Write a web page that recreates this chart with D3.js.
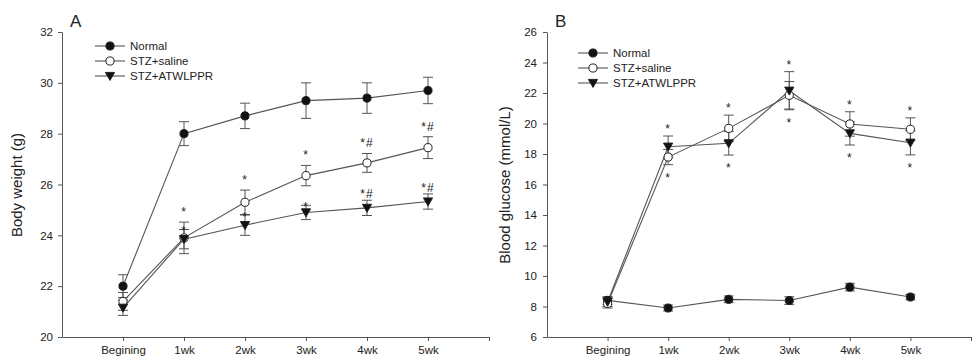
<!DOCTYPE html>
<html>
  <head>
    <title>Body weight and blood glucose</title>
    <style>
      body { margin: 0; background: #fff; }
      text { font-family: "Liberation Sans", Arial, sans-serif; fill: #222; }
      .axis path, .axis line { stroke: #555; }
    </style>
  </head>
  <body>
    <div id="chart"></div>
    <script src="https://d3js.org/d3.v7.min.js"></script>
<script>

  var categories = ["Begining", "1wk", "2wk", "3wk", "4wk", "5wk"];
  var seriesNames = ["Normal", "STZ+saline", "STZ+ATWLPPR"];

  // panel A - body weight (g)
  var weightTicks = [20, 22, 24, 26, 28, 30, 32];
  var weightNormal    = [22.0, 28.0, 28.7, 29.3, 29.4, 29.7];
  var weightNormalErr = [0.45, 0.47, 0.5, 0.7, 0.6, 0.52];
  var weightSaline    = [21.4, 23.9, 25.3, 26.35, 26.85, 27.45];
  var weightSalineErr = [0.35, 0.62, 0.48, 0.4, 0.37, 0.43];
  var weightAtw       = [21.15, 23.85, 24.4, 24.9, 25.08, 25.33];
  var weightAtwErr    = [0.3, 0.38, 0.4, 0.28, 0.3, 0.3];
  var weightSalineSig = ["", "*", "*", "*", "*#", "*#"];
  var weightAtwSig    = ["", "*", "*", "*", "*#", "*#"];

  // panel B - blood glucose (mmol/L)
  var glucoseTicks = [6, 8, 10, 12, 14, 16, 18, 20, 22, 24, 26];
  var glucoseNormal    = [8.4, 7.9, 8.47, 8.39, 9.27, 8.62];
  var glucoseNormalErr = [0.25, 0.2, 0.22, 0.25, 0.25, 0.18];
  var glucoseSaline    = [8.2, 17.8, 19.68, 21.85, 19.97, 19.62];
  var glucoseSalineErr = [0.3, 0.5, 0.87, 0.9, 0.8, 0.75];
  var glucoseAtw       = [8.3, 18.48, 18.7, 22.15, 19.35, 18.74];
  var glucoseAtwErr    = [0.3, 0.7, 0.77, 1.25, 0.76, 0.8];
  var glucoseSigAbove  = ["", "*", "*", "*", "*", "*"];
  var glucoseSigBelow  = ["", "*", "*", "*", "*", "*"];

  var W = 974, H = 358;
  var lineColor = "#555";

  var svg = d3.select("#chart").append("svg")
    .attr("width", W)
    .attr("height", H);

  function symbolFor(i) {
    return i === 2
      ? d3.symbol().type(function() { return {draw: function(ctx) {
          // downward triangle
          ctx.moveTo(-4.6, -3.6); ctx.lineTo(4.6, -3.6); ctx.lineTo(0, 4.4); ctx.closePath();
        }}; })()
      : d3.symbol().type(d3.symbolCircle).size(52)();
  }

  function drawPanel(opt) {
    var x = d3.scaleLinear().domain([0, 7]).range(opt.xr);
    var y = d3.scaleLinear().domain(opt.yd).range([337, 32]);
    var g = svg.append("g");

    g.append("g")
      .attr("class", "axis")
      .attr("transform", "translate(0,337)")
      .call(d3.axisBottom(x)
        .tickValues([1, 2, 3, 4, 5, 6, 7])
        .tickSizeInner(4).tickSizeOuter(0).tickPadding(5)
        .tickFormat(function(d) { return categories[d - 1] || ""; }))
      .call(function(a) { a.selectAll("text").attr("font-size", 11.5).style("font-family", null); });

    g.append("g")
      .attr("class", "axis")
      .attr("transform", "translate(" + opt.xr[0] + ",0)")
      .call(d3.axisLeft(y)
        .tickValues(opt.ticks)
        .tickSizeInner(4).tickSizeOuter(0).tickPadding(opt.yPad))
      .call(function(a) { a.selectAll("text").attr("font-size", 11.5).style("font-family", null); });

    g.append("text")
      .attr("transform", "translate(" + opt.titleX + ",185) rotate(-90)")
      .attr("text-anchor", "middle")
      .attr("font-size", 15)
      .text(opt.title);

    g.append("text")
      .attr("x", opt.letterX).attr("y", 27)
      .attr("font-size", 17)
      .text(opt.letter);

    var line = d3.line()
      .x(function(d, i) { return x(i + 1); })
      .y(function(d) { return y(d); });

    // lines first
    opt.series.forEach(function(s) {
      g.append("path")
        .attr("d", line(s.values))
        .attr("fill", "none")
        .attr("stroke", lineColor)
        .attr("stroke-width", 1.1);
    });

    // error bars
    opt.series.forEach(function(s) {
      s.values.forEach(function(v, i) {
        var cx = x(i + 1), e = s.err[i];
        var eb = g.append("g").attr("stroke", lineColor).attr("stroke-width", 1);
        eb.append("line").attr("x1", cx).attr("x2", cx).attr("y1", y(v + e)).attr("y2", y(v - e));
        eb.append("line").attr("x1", cx - 5).attr("x2", cx + 5).attr("y1", y(v + e)).attr("y2", y(v + e));
        eb.append("line").attr("x1", cx - 5).attr("x2", cx + 5).attr("y1", y(v - e)).attr("y2", y(v - e));
      });
    });

    // markers
    opt.series.forEach(function(s, si) {
      g.selectAll(null)
        .data(s.values)
        .enter()
        .append("path")
        .attr("d", symbolFor(si))
        .attr("transform", function(d, i) { return "translate(" + x(i + 1) + "," + y(d) + ")"; })
        .attr("fill", si === 1 ? "#fff" : "#111")
        .attr("stroke", "#222")
        .attr("stroke-width", 1);
    });

    // significance marks
    opt.marks.forEach(function(m) {
      m.labels.forEach(function(t, i) {
        if (!t) return;
        g.append("text")
          .attr("x", x(i + 1))
          .attr("y", m.pos(i, y) )
          .attr("text-anchor", "middle")
          .attr("font-size", 12)
          .attr("letter-spacing", 1)
          .text(t);
      });
    });

    // legend
    var leg = g.append("g");
    seriesNames.forEach(function(n, i) {
      var ly = opt.legY + i * 15;
      leg.append("line")
        .attr("x1", opt.legX).attr("x2", opt.legX + 30)
        .attr("y1", ly).attr("y2", ly)
        .attr("stroke", lineColor).attr("stroke-width", 1.1);
      leg.append("path")
        .attr("d", symbolFor(i))
        .attr("transform", "translate(" + (opt.legX + 15) + "," + ly + ")")
        .attr("fill", i === 1 ? "#fff" : "#111")
        .attr("stroke", "#222");
      leg.append("text")
        .attr("x", opt.legX + 35).attr("y", ly + 4)
        .attr("font-size", 11.5)
        .text(n);
    });
  }

  drawPanel({
    xr: [62, 489], yd: [20, 32], ticks: weightTicks, yPad: 5,
    title: "Body weight (g)", titleX: 22, letter: "A", letterX: 70,
    legX: 95, legY: 46,
    series: [
      {values: weightNormal, err: weightNormalErr},
      {values: weightSaline, err: weightSalineErr},
      {values: weightAtw, err: weightAtwErr}
    ],
    marks: [
      {labels: weightSalineSig, pos: function(i, y) { return y(weightSaline[i] + weightSalineErr[i]) - 6; }},
      {labels: weightAtwSig, pos: function(i, y) { return y(weightAtw[i] + weightAtwErr[i]) + (weightAtwSig[i] === "*" ? 6 : -2); }}
    ]
  });

  drawPanel({
    xr: [547, 971], yd: [6, 26], ticks: glucoseTicks, yPad: 6,
    title: "Blood glucose (mmol/L)", titleX: 510, letter: "B", letterX: 555,
    legX: 578, legY: 53,
    series: [
      {values: glucoseNormal, err: glucoseNormalErr},
      {values: glucoseSaline, err: glucoseSalineErr},
      {values: glucoseAtw, err: glucoseAtwErr}
    ],
    marks: [
      {labels: glucoseSigAbove, pos: function(i, y) {
        return Math.min(y(glucoseSaline[i] + glucoseSalineErr[i]), y(glucoseAtw[i] + glucoseAtwErr[i])) - 3; }},
      {labels: glucoseSigBelow, pos: function(i, y) {
        return Math.max(y(glucoseSaline[i] - glucoseSalineErr[i]), y(glucoseAtw[i] - glucoseAtwErr[i])) + 17; }}
    ]
  });

</script>
  </body>
</html>
